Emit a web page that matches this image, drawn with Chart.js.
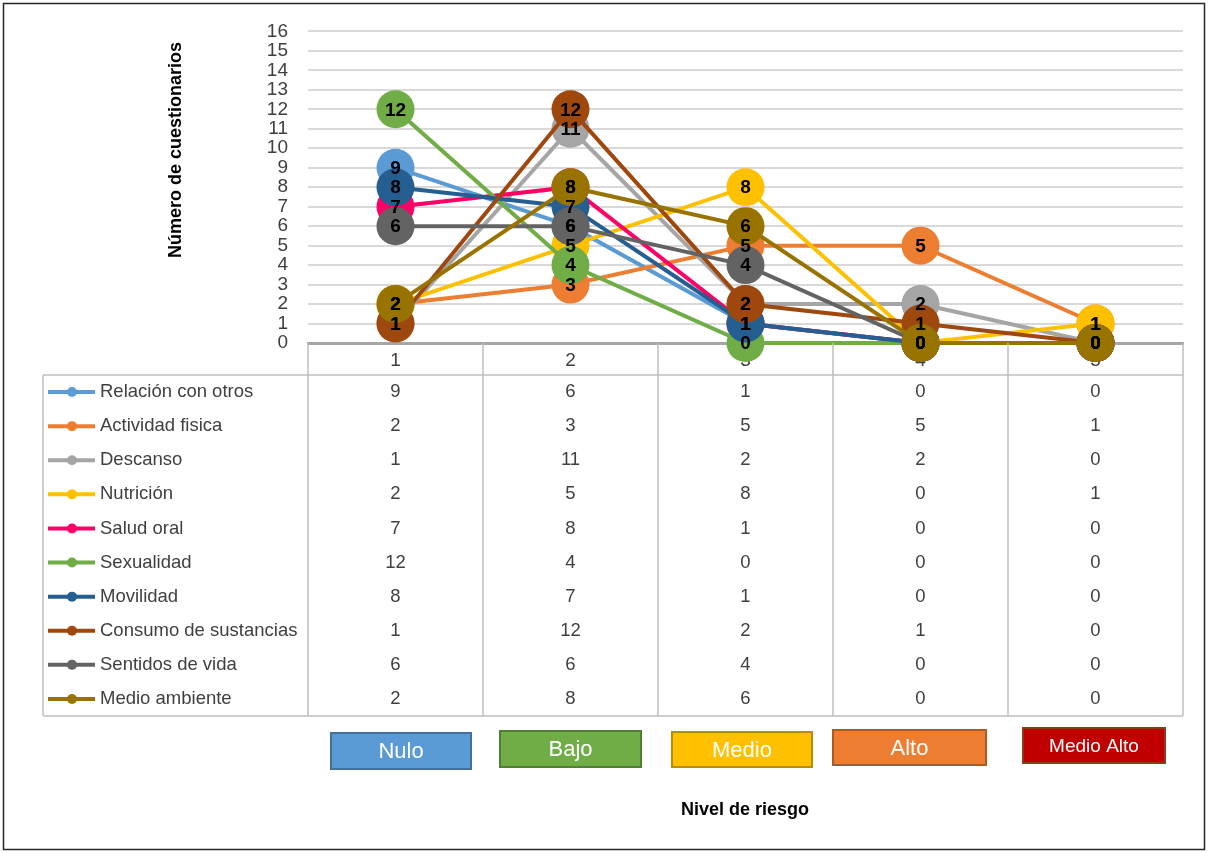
<!DOCTYPE html>
<html>
<head>
<meta charset="utf-8">
<script src="https://cdn.jsdelivr.net/npm/chart.js@4.4.1/dist/chart.umd.min.js"></script>
<style>
  body { margin: 0; background: #fff; }
  #wrap { width: 1208px; height: 853px; position: relative; }
</style>
</head>
<body>
<div id="wrap"><canvas id="grafico"></canvas></div>
<script>
// categorias del eje x
const categorias = ['1', '2', '3', '4', '5'];
const ticksY = [0, 16];

// valores por dimension
const relacionConOtros = [9, 6, 1, 0, 0];
const actividadFisica = [2, 3, 5, 5, 1];
const descanso = [1, 11, 2, 2, 0];
const nutricion = [2, 5, 8, 0, 1];
const saludOral = [7, 8, 1, 0, 0];
const sexualidad = [12, 4, 0, 0, 0];
const movilidad = [8, 7, 1, 0, 0];
const consumoSustancias = [1, 12, 2, 1, 0];
const sentidosVida = [6, 6, 4, 0, 0];
const medioAmbiente = [2, 8, 6, 0, 0];

const nombres = ['Relación con otros', 'Actividad fisica', 'Descanso', 'Nutrición', 'Salud oral',
  'Sexualidad', 'Movilidad', 'Consumo de sustancias', 'Sentidos de vida', 'Medio ambiente'];
const valores = [relacionConOtros, actividadFisica, descanso, nutricion, saludOral,
  sexualidad, movilidad, consumoSustancias, sentidosVida, medioAmbiente];
const colores = ['#5B9BD5', '#ED7D31', '#A5A5A5', '#FFC000', '#FF0066',
  '#70AD47', '#255E91', '#9E480E', '#636363', '#997300'];

// cajas de nivel de riesgo
const niveles = ['Nulo', 'Bajo', 'Medio', 'Alto', 'Medio Alto'];
const nivelColores = ['#5B9BD5', '#70AD47', '#FFC000', '#ED7D31', '#C00000'];
const nivelBordes = ['#41719C', '#507E32', '#BC8C00', '#AE5A21', '#8B3A1A'];
// posiciones de las cajas (x, y, ancho, alto)
const cajas = [[331, 733, 140, 36], [500, 731, 141, 36], [672, 732, 140, 35], [833, 730, 153, 35], [1023, 728, 142, 35]];

const FUENTE = '"Liberation Sans", Arial, sans-serif';
const GRIS_TEXTO = '#404040';

const datasets = nombres.map((n, i) => ({
  label: n,
  data: valores[i],
  borderColor: colores[i],
  backgroundColor: colores[i],
  borderWidth: 4,
  pointRadius: 19,
  pointHoverRadius: 19,
  pointBorderWidth: 0,
  pointBackgroundColor: colores[i],
  clip: false,
  order: nombres.length - i, // la ultima serie queda encima
  tension: 0
}));

const tablaPlugin = {
  id: 'tabla',
  beforeDraw(chart) {
    const ctx = chart.ctx;
    ctx.save();
    ctx.fillStyle = '#fff';
    ctx.fillRect(0, 0, chart.width, chart.height);
    ctx.restore();
  },
  afterDatasetsDraw(chart) {
    // etiquetas de datos
    const ctx = chart.ctx;
    ctx.save();
    ctx.font = 'bold 19px ' + FUENTE;
    ctx.fillStyle = '#000';
    ctx.textAlign = 'center';
    ctx.textBaseline = 'middle';
    chart.data.datasets.forEach((ds, i) => {
      const meta = chart.getDatasetMeta(i);
      meta.data.forEach((pt, j) => {
        ctx.fillText(String(ds.data[j]), pt.x, pt.y + 1);
      });
    });
    ctx.restore();
  },
  afterDraw(chart) {
    const ctx = chart.ctx;
    const area = chart.chartArea;
    const x = chart.scales.x;
    const anchoCol = (area.right - area.left) / categorias.length;
    const tablaIzq = 43;
    const tablaTop = 375;
    const filaAlto = 34.1;
    const tablaBottom = tablaTop + filaAlto * nombres.length;

    ctx.save();
    // lineas de la tabla
    ctx.strokeStyle = '#BFBFBF';
    ctx.lineWidth = 1.5;
    ctx.beginPath();
    for (let k = 0; k <= categorias.length; k++) {
      const xx = area.left + k * anchoCol;
      ctx.moveTo(xx, area.bottom);
      ctx.lineTo(xx, tablaBottom);
    }
    ctx.moveTo(tablaIzq, tablaTop);
    ctx.lineTo(area.right, tablaTop);
    ctx.moveTo(tablaIzq, tablaTop);
    ctx.lineTo(tablaIzq, tablaBottom);
    ctx.moveTo(tablaIzq, tablaBottom);
    ctx.lineTo(area.right, tablaBottom);
    ctx.stroke();

    // filas: clave de leyenda, nombre y valores
    ctx.textBaseline = 'middle';
    nombres.forEach((n, i) => {
      const yy = tablaTop + filaAlto * (i + 0.5);
      ctx.strokeStyle = colores[i];
      ctx.lineWidth = 4;
      ctx.beginPath();
      ctx.moveTo(48, yy);
      ctx.lineTo(95, yy);
      ctx.stroke();
      ctx.fillStyle = colores[i];
      ctx.beginPath();
      ctx.arc(72, yy, 5, 0, Math.PI * 2);
      ctx.fill();

      ctx.fillStyle = GRIS_TEXTO;
      ctx.font = '18.5px ' + FUENTE;
      ctx.textAlign = 'left';
      ctx.fillText(n, 100, yy);
      ctx.textAlign = 'center';
      valores[i].forEach((v, j) => {
        ctx.fillText(String(v), x.getPixelForValue(j), yy);
      });
    });

    // cajas de nivel de riesgo
    niveles.forEach((t, i) => {
      const [bx, by, bw, bh] = cajas[i];
      ctx.fillStyle = nivelColores[i];
      ctx.fillRect(bx, by, bw, bh);
      ctx.strokeStyle = nivelBordes[i];
      ctx.lineWidth = 2;
      ctx.strokeRect(bx, by, bw, bh);
      ctx.fillStyle = '#fff';
      ctx.font = (t === 'Medio Alto' ? '19px ' : '22px ') + FUENTE;
      ctx.textAlign = 'center';
      ctx.fillText(t, bx + bw / 2, by + bh / 2 + 1);
    });

    // titulos de los ejes
    ctx.fillStyle = '#000';
    ctx.font = 'bold 18px ' + FUENTE;
    ctx.textAlign = 'center';
    ctx.fillText('Nivel de riesgo', 745, 810);
    ctx.save();
    ctx.translate(176, 150);
    ctx.rotate(-Math.PI / 2);
    ctx.fillText('Número de cuestionarios', 0, 0);
    ctx.restore();

    // borde exterior
    ctx.strokeStyle = '#262626';
    ctx.lineWidth = 1.5;
    ctx.strokeRect(3.5, 3.5, chart.width - 7, chart.height - 7);
    ctx.restore();
  }
};

new Chart(document.getElementById('grafico'), {
  type: 'line',
  data: { labels: categorias, datasets: datasets },
  options: {
    responsive: true,
    maintainAspectRatio: false,
    animation: false,
    layout: { padding: { left: 150, right: 25, top: 30, bottom: 477 } },
    plugins: {
      legend: { display: false },
      tooltip: { enabled: false }
    },
    scales: {
      x: {
        offset: true,
        afterFit: (s) => { s.height = 33; },
        grid: { display: false, drawTicks: false },
        border: { display: true, color: '#A6A6A6', width: 3 },
        ticks: { color: GRIS_TEXTO, font: { family: FUENTE, size: 19 }, padding: 6 }
      },
      y: {
        min: ticksY[0],
        max: ticksY[1],
        afterFit: (s) => { s.width = 158; },
        grid: { color: '#D9D9D9', lineWidth: 2, drawTicks: false },
        border: { display: false },
        ticks: { stepSize: 1, autoSkip: false, color: GRIS_TEXTO, font: { family: FUENTE, size: 19 }, padding: 20 }
      }
    }
  },
  plugins: [tablaPlugin]
});
</script>
</body>
</html>
